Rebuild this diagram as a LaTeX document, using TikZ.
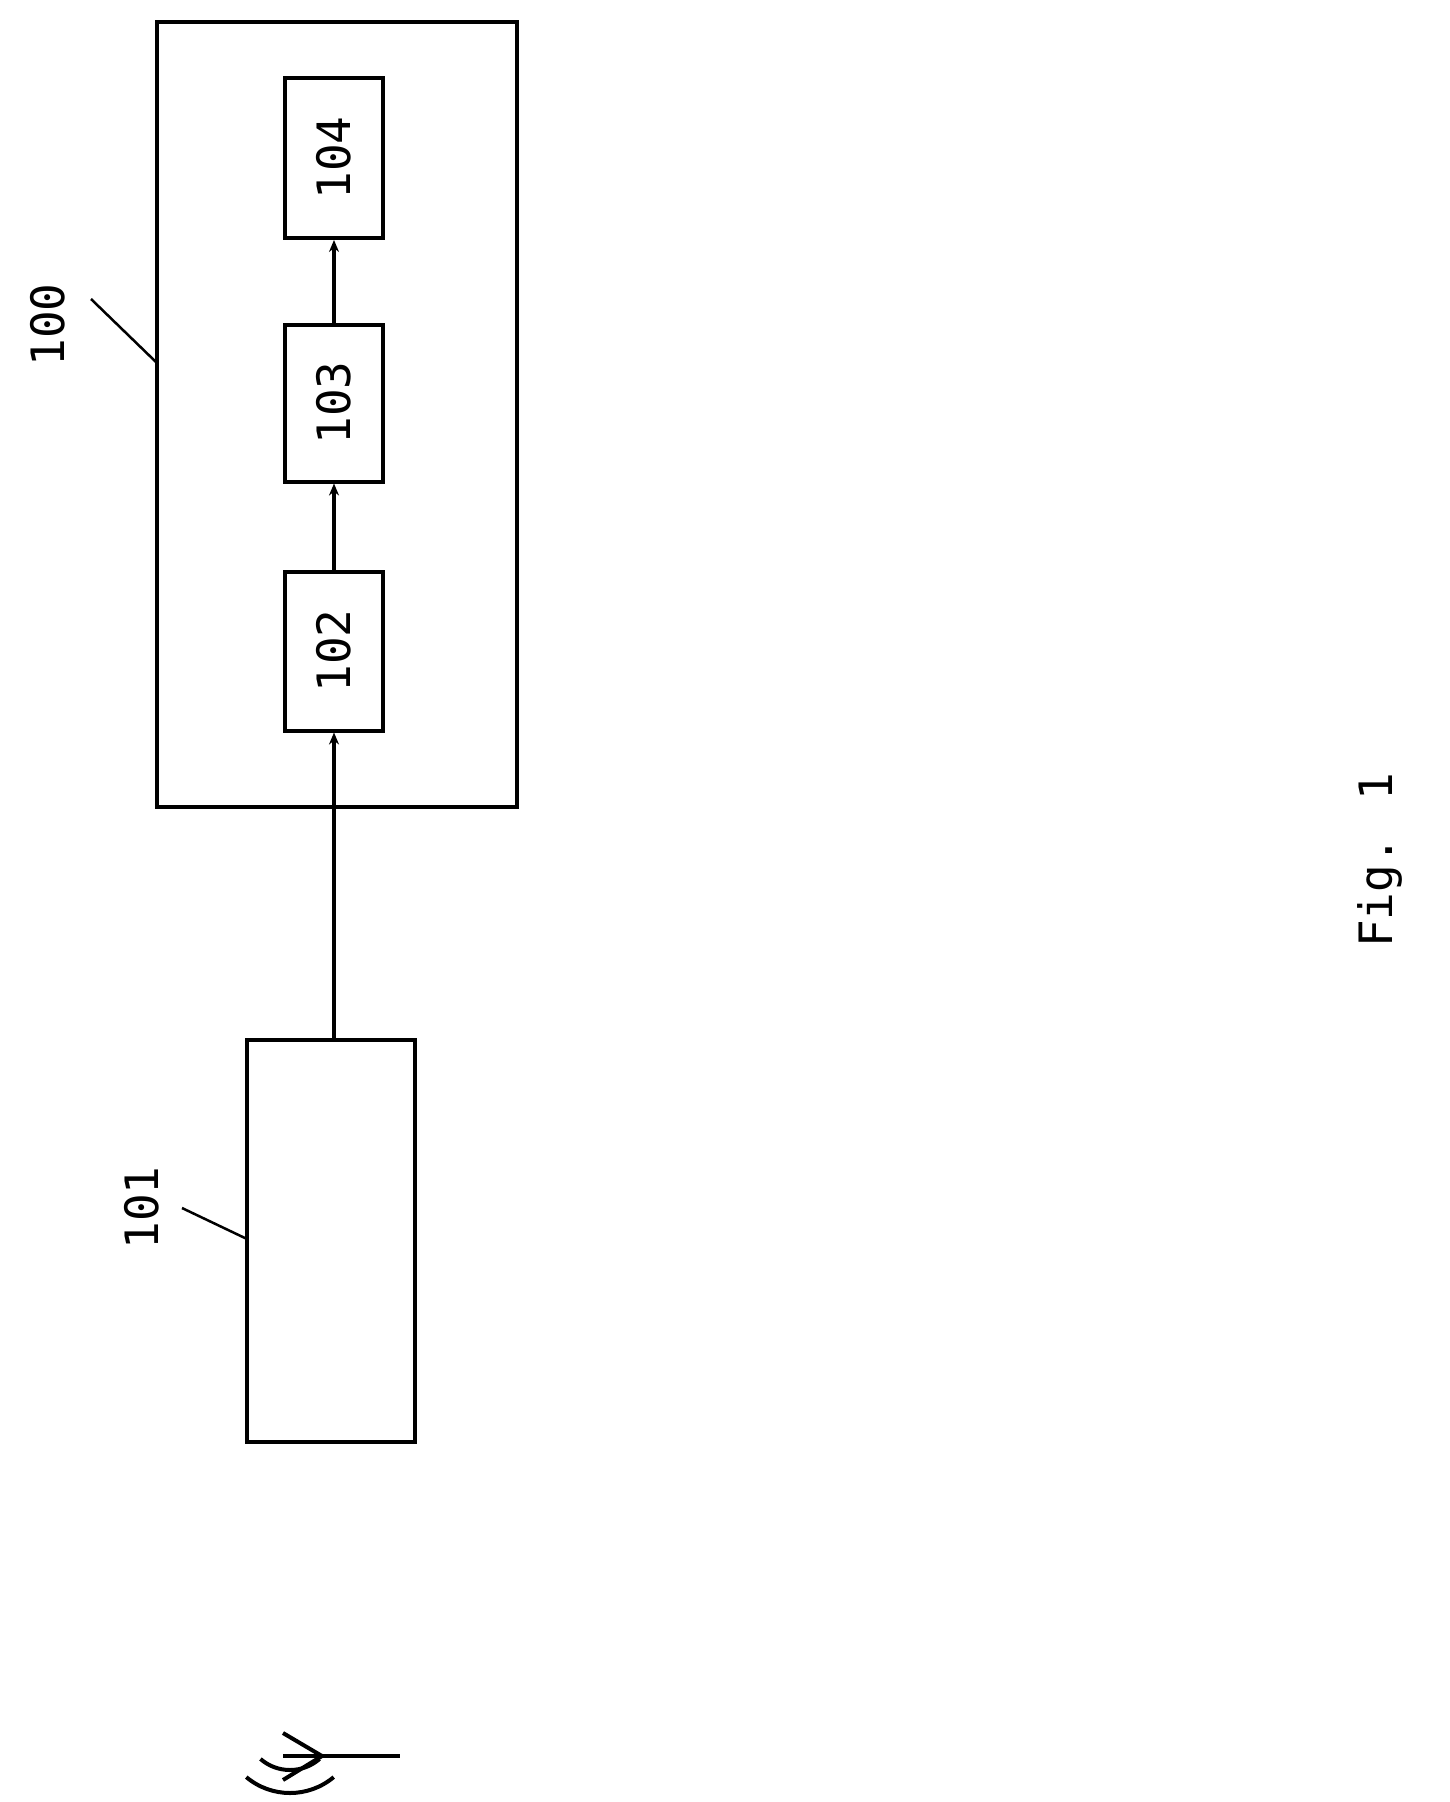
\documentclass[tikz,border=0pt]{standalone}
\usepackage{fontspec}
\setmainfont{DejaVu Sans Mono}
\usetikzlibrary{positioning,arrows.meta}

\begin{document}
\begin{tikzpicture}[x=1pt, y=-1pt, >={Stealth[length=12pt,width=10pt]},
    box/.style={draw, line width=4pt, inner sep=0pt},
    num/.style={rotate=90, font=\fontsize{46}{50}\selectfont}]
    \useasboundingbox (0,0) rectangle (1449,1802);

    % Outer unit and the chain inside it
    \node[box, minimum width=360pt, minimum height=785pt] (unit) at (337,414) {};
    \node[box, minimum width=98pt, minimum height=159pt] (b102) at (334,651) {};
    \node[box, minimum width=98pt, minimum height=157pt] (b103) at (334,403) {};
    \node[box, minimum width=98pt, minimum height=160pt] (b104) at (334,158) {};
    \node[num] at (b102) {102};
    \node[num] at (b103) {103};
    \node[num] at (b104) {104};

    % Receiver block
    \node[box, minimum width=168pt, minimum height=402pt] (recv) at (331,1241) {};

    % Signal path
    \draw[->, line width=4pt] (recv.north -| b102) -- (b102.south);
    \draw[->, line width=4pt] (b102.north) -- (b103.south);
    \draw[->, line width=4pt] (b103.north) -- (b104.south);

    % Reference numerals with leaders
    \node[num] (lbl100) at (48,325) {100};
    \coordinate (tip100) at (157,363);
    \draw[line width=2.5pt] (91,299) -- (tip100);
    \node[num] (lbl101) at (142,1208) {101};
    \coordinate (tip101) at (247,1239);
    \draw[line width=2.5pt] (182,1208) -- (tip101);

    % Antenna with radio waves
    \coordinate (feed) at (322,1756);
    \draw[line width=4pt] (283,1756) -- (400,1756);
    \draw[line width=4pt] (283,1733) -- (feed) -- (283,1780);
    \foreach \r/\a in {100/36, 68/40, 45/41}
        \draw[line width=4pt] (290,1725) ++(90+\a:\r) arc[start angle=90+\a, end angle=90-\a, radius=\r];

    % Figure caption
    \node[num] (fig) at (1380,860) {Fig. 1};
\end{tikzpicture}
\end{document}
